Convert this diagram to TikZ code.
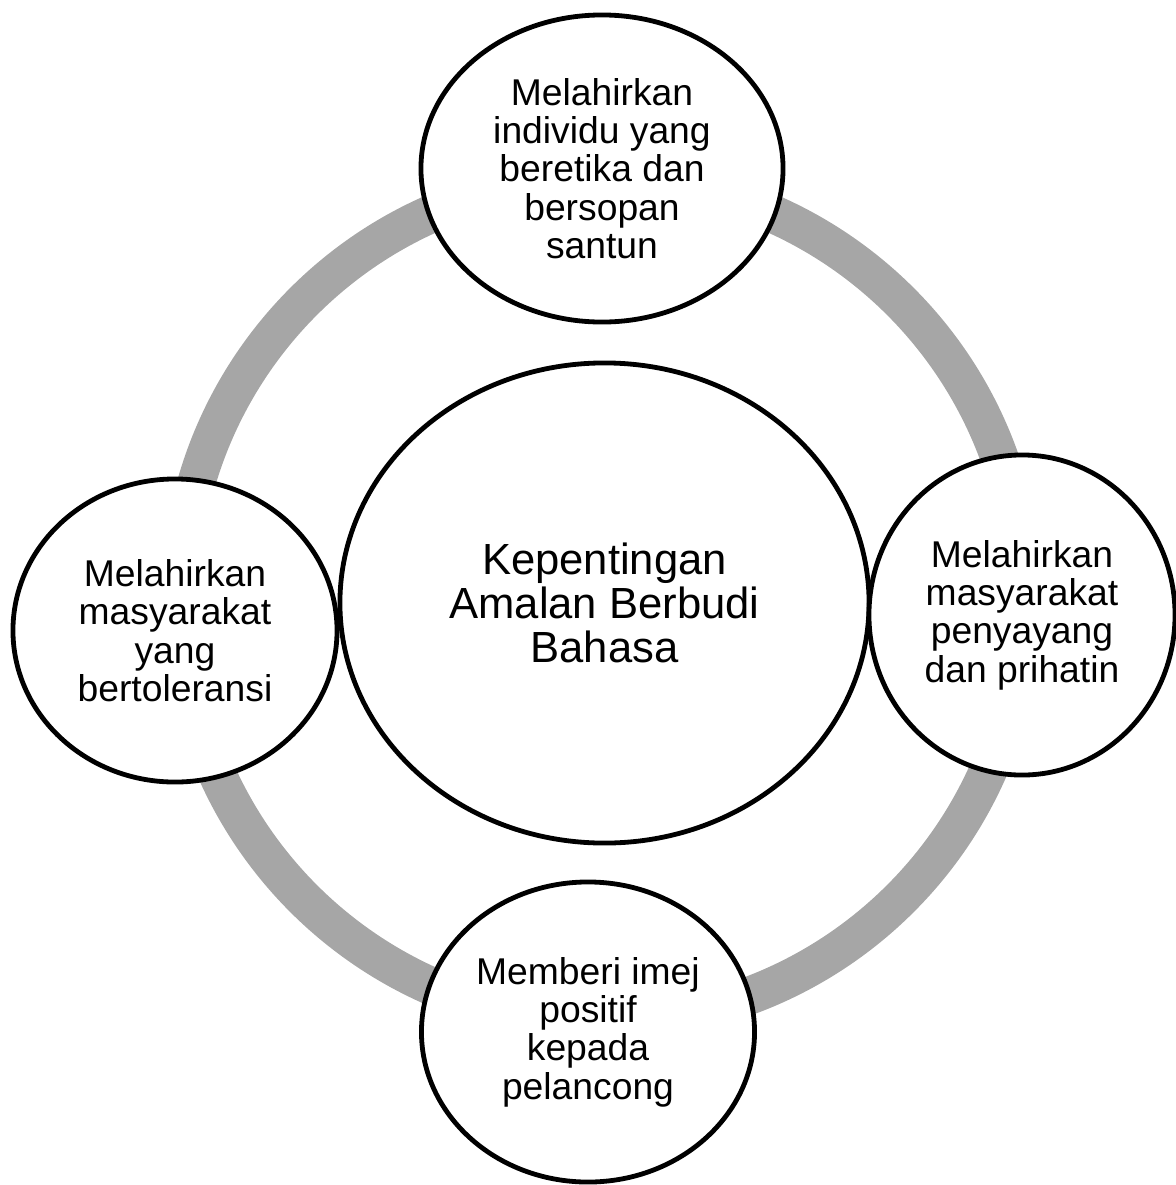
\documentclass[tikz,border=0pt]{standalone}
\usepackage{fontspec}
\setmainfont{Liberation Sans}
\usetikzlibrary{shapes.geometric}
\definecolor{ringgray}{HTML}{A6A6A6}

\begin{document}
\begin{tikzpicture}[x=0.025cm, y=-0.025cm,
	bubble/.style={draw, ellipse, fill=white, line width=0.12cm, inner sep=0pt, align=center, font=\fontsize{26.5}{27.3}\selectfont},
	core/.style={bubble, font=\fontsize{31}{31}\selectfont}]

	\useasboundingbox (0,0) rectangle (1176,1185);

	\coordinate (ring) at (602,600);
	\draw [ringgray, line width=0.95cm] (ring) circle [radius=10.55cm];

	\node [core, minimum width=13.225cm, minimum height=12cm] (centre) at (604.5,603) {Kepentingan\\Amalan Berbudi\\Bahasa};
	\node [bubble, minimum width=9.05cm, minimum height=7.675cm] (etika) at (602,168.5) {Melahirkan\\individu yang\\beretika dan\\bersopan\\santun};
	\node [bubble, minimum width=8.1cm, minimum height=7.575cm] (toleransi) at (175,630.5) {Melahirkan\\masyarakat\\yang\\bertoleransi};
	\node [bubble, minimum width=7.65cm, minimum height=8cm] (prihatin) at (1022,615) {Melahirkan\\masyarakat\\penyayang\\dan prihatin};
	\node [bubble, minimum width=8.325cm, minimum height=7.5cm] (imej) at (588,1032) {Memberi imej\\positif\\kepada\\pelancong};

\end{tikzpicture}
\end{document}
